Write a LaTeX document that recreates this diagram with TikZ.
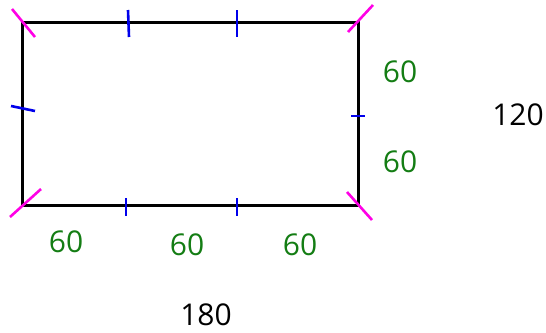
\documentclass[tikz,border=0pt]{standalone}
\usepackage{fontspec}
\setmainfont{Open Sans}
\definecolor{lenc}{RGB}{20,125,20}
\definecolor{tickc}{RGB}{0,0,235}
\definecolor{cornc}{RGB}{255,0,230}
\begin{document}
\begin{tikzpicture}[x=1pt,y=-1pt,line width=3pt]
  \tikzset{len/.style={text=lenc,inner sep=1pt,font=\fontsize{30}{32}\selectfont},
    tot/.style={text=black,inner sep=1pt,font=\fontsize{30}{32}\selectfont},
    tk/.style={tickc,line width=2.6pt},
    crn/.style={cornc,line width=2.6pt}}
  \useasboundingbox (0,0) rectangle (546,332);
  \coordinate (A) at (22,22); \coordinate (B) at (358,22);
  \coordinate (C) at (358,205); \coordinate (D) at (22,205);
  \draw[black] (A)--(B)--(C)--(D)--cycle;
  % corners
  \draw[crn] (12,9)--(35,37);  \draw[crn] (348,32)--(373,5);
  \draw[crn] (347,192)--(372,220); \draw[crn] (10,217)--(41,189);
  % marks
  \draw[tk] (128,10)--(129,37); \draw[tk] (237,10)--(237,37);
  \draw[tk] (11,106)--(35,111); \draw[tk] (351,116)--(365,116);
  \draw[tk] (126,198)--(126,216); \draw[tk] (237,198)--(237,216);
  % lengths
  \node[len] (r1) at (400,72) {60}; \node[len] (r2) at (400,162) {60};
  \node[len] (b1) at (66,242) {60}; \node[len] (b2) at (187,245) {60};
  \node[len] (b3) at (300,245) {60};
  \node[tot] (h) at (518,115) {120}; \node[tot] (w) at (206,315) {180};
\end{tikzpicture}
\end{document}
